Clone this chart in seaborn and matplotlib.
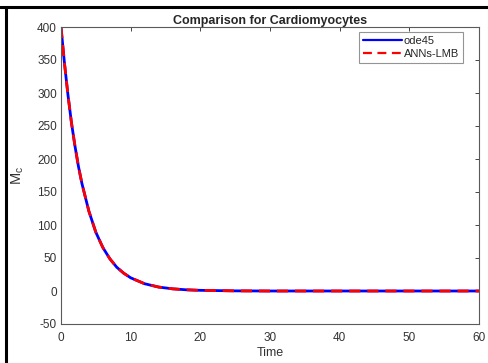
import matplotlib
matplotlib.use("Agg")
import matplotlib.pyplot as plt
from matplotlib.lines import Line2D
import seaborn as sns
import pandas as pd

# Values
time = [0, 0.5, 1, 1.5, 2, 2.5, 3, 4, 5, 6, 7, 8, 9, 10, 12, 14, 16, 18, 20, 25, 30, 40, 50, 60]
mc_ode45 = [400, 345, 297, 255, 220, 189, 163, 121, 89, 66, 49, 36, 27, 20, 11, 6, 3.3, 1.8, 1.0, 0.2, 0, 0, 0, 0]
mc_ann = [400, 345, 297, 255, 220, 189, 163, 121, 89, 66, 49, 36, 27, 20, 11, 6, 3.3, 1.8, 1.0, 0.2, 0, 0, 0, 0]
series_names = ["ode45", "ANNs-LMB"]
xticks = [0, 10, 20, 30, 40, 50, 60]
yticks = [-50, 0, 50, 100, 150, 200, 250, 300, 350, 400]

sns.set_style("white")
plt.rcParams["font.family"] = ["Liberation Sans", "DejaVu Sans"]
plt.rcParams["mathtext.fontset"] = "custom"
plt.rcParams["mathtext.rm"] = "Liberation Sans"
plt.rcParams["mathtext.it"] = "Liberation Sans"
plt.rcParams["axes.unicode_minus"] = False

df = pd.DataFrame({"Time": time + time,
                   "Mc": mc_ode45 + mc_ann,
                   "series": [series_names[0]] * len(time) + [series_names[1]] * len(time)})

fig = plt.figure(figsize=(4.89, 3.63), dpi=100)
ax = fig.add_axes([61 / 489, 1 - 324 / 363, (479 - 61) / 489, (324 - 27) / 363])

sns.lineplot(data=df, x="Time", y="Mc", hue="series", style="series",
             palette={"ode45": "#0000ff", "ANNs-LMB": "#ff0000"},
             dashes={"ode45": "", "ANNs-LMB": (4, 2.5)},
             linewidth=2, ax=ax, legend=False, estimator=None)

ax.set_xlim(0, 60)
ax.set_ylim(-50, 400)
ax.set_xticks(xticks)
ax.set_yticks(yticks)
ax.tick_params(direction="in", length=3, width=0.6, colors="#262626", labelsize=8.5,
               top=True, right=True, labeltop=False, labelright=False, pad=3)
ax.tick_params(axis="x", pad=6)
for lab in ax.get_xticklabels() + ax.get_yticklabels():
    lab.set_color("#333333")
for s in ax.spines.values():
    s.set_color("#5a5a5a")
    s.set_linewidth(0.8)

ax.set_xlabel("Time", fontsize=9, color="#333333", labelpad=2)
ax.set_ylabel(r"$\mathrm{M_c}$", fontsize=10.5, color="#333333", labelpad=8)
ax.set_title("Comparison for Cardiomyocytes", fontsize=9, fontweight="bold", pad=2)

handles = [Line2D([], [], color="#0000ff", lw=1.6),
           Line2D([], [], color="#ff0000", lw=1.6, dashes=(4, 2.5))]
leg = ax.legend(handles, series_names, loc="upper right", fontsize=8,
                frameon=True, fancybox=False, edgecolor="#7a7a7a",
                handlelength=3.5, handletextpad=0.2, borderpad=0.35,
                labelspacing=0.25, bbox_to_anchor=(0.962, 0.983), borderaxespad=0)
leg.get_frame().set_linewidth(0.8)

# Black page frame visible in the reference crop
fig.add_artist(Line2D([0, 1], [1 - 6.5 / 363, 1 - 6.5 / 363], transform=fig.transFigure,
                      color="black", lw=2.2))
fig.add_artist(Line2D([6 / 489, 6 / 489], [0, 1 - 6.5 / 363], transform=fig.transFigure,
                      color="black", lw=2.2))

fig.savefig("out.png", dpi=100)
